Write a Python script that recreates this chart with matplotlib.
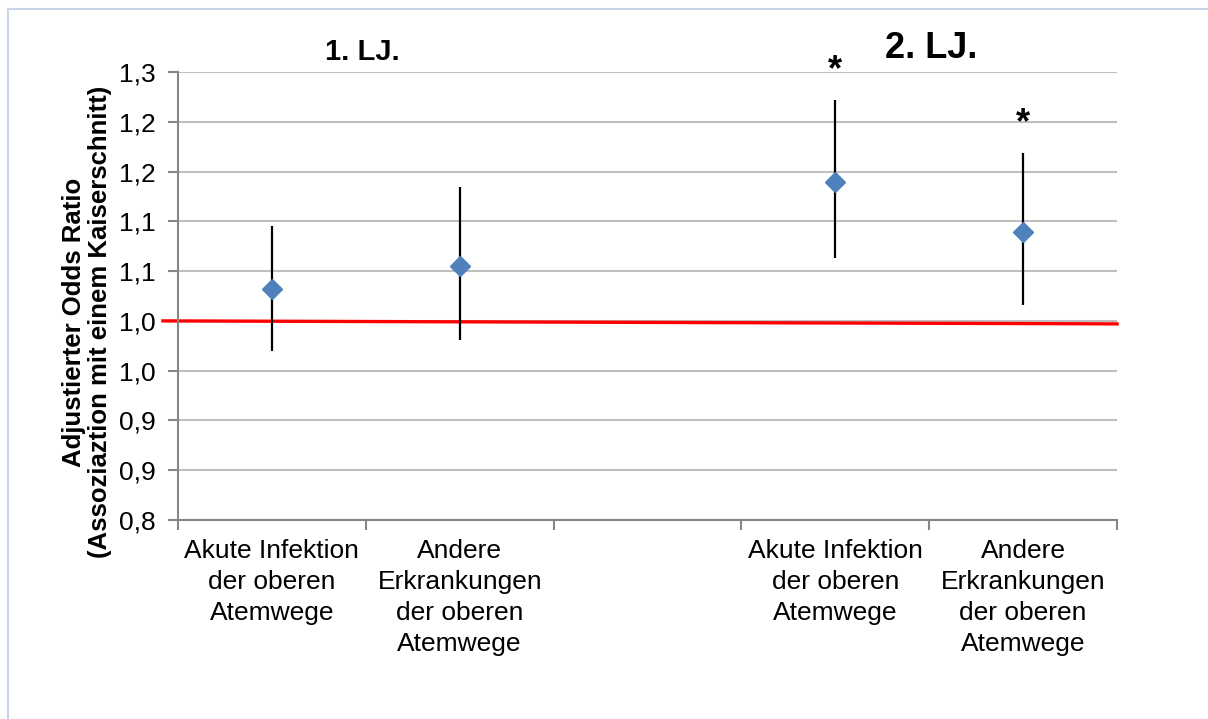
import numpy as np
import matplotlib.pyplot as plt
from matplotlib.ticker import FixedLocator, FixedFormatter

plt.rcParams['font.family'] = ['Liberation Sans', 'DejaVu Sans']

# categories (middle slot left empty as a gap between the two years)
categories = ['Akute Infektion\nder oberen\nAtemwege',
              'Andere\nErkrankungen\nder oberen\nAtemwege',
              '',
              'Akute Infektion\nder oberen\nAtemwege',
              'Andere\nErkrankungen\nder oberen\nAtemwege']
x_pos = [0, 1, 3, 4]
odds = [1.032, 1.055, 1.140, 1.089]
ci_low = [0.970, 0.981, 1.063, 1.016]
ci_high = [1.095, 1.134, 1.222, 1.169]
signif = [False, False, True, True]

y_ticks = [0.80, 0.85, 0.90, 0.95, 1.00, 1.05, 1.10, 1.15, 1.20, 1.25]
y_labels = ['0,8', '0,9', '0,9', '1,0', '1,0', '1,1', '1,1', '1,2', '1,2', '1,3']

fig = plt.figure(figsize=(12.08, 7.19), dpi=100)
ax = fig.add_axes([178/1208, 1 - 520/719, (1117 - 178)/1208, (520 - 72)/719])

ax.set_xlim(-0.5, 4.5)
ax.set_ylim(0.8, 1.25)

ax.yaxis.set_major_locator(FixedLocator(y_ticks))
ax.yaxis.set_major_formatter(FixedFormatter(y_labels))
ax.set_xticks(np.arange(-0.5, 5.0, 1.0))
ax.set_xticklabels([])
ax.set_xticks(range(5), minor=True)
ax.set_xticklabels(categories, minor=True, fontsize=19, linespacing=1.36, va='top')
ax.tick_params(axis='x', which='minor', length=0, pad=14)
ax.tick_params(axis='x', which='major', length=7, width=1.5, color='#868686', direction='out')
ax.tick_params(axis='y', length=7, width=1.5, color='#868686', labelsize=19, pad=9)

ax.grid(axis='y', color='#bfbfbf', linewidth=1.5)
ax.set_axisbelow(True)
for side in ['top', 'right']:
    ax.spines[side].set_visible(False)
for side in ['left', 'bottom']:
    ax.spines[side].set_color('#868686')
    ax.spines[side].set_linewidth(1.5)

# reference line at OR = 1
ax.plot([-0.58, 4.5], [1.0, 0.997], color='#ff0000', linewidth=2.4, clip_on=False, zorder=2)

err = [np.array(odds) - np.array(ci_low), np.array(ci_high) - np.array(odds)]
ax.errorbar(x_pos, odds, yerr=err, fmt='none', ecolor='black', elinewidth=1.6, capsize=0, zorder=3)
ax.plot(x_pos, odds, linestyle='none', marker='D', markersize=10.5,
        color='#4f81bd', markeredgecolor='#4f81bd', zorder=4)

for x, hi, s in zip(x_pos, ci_high, signif):
    if s:
        ax.text(x, hi + 0.012, '*', ha='center', va='bottom', fontsize=26, fontweight='bold')

ax.text(0.48, 1.27, '1. LJ.', ha='center', va='center', fontsize=21, fontweight='bold',
        clip_on=False)
ax.text(3.51, 1.274, '2. LJ.', ha='center', va='center', fontsize=26, fontweight='bold',
        clip_on=False)

fig.text(87/1208, 1 - 322/719, 'Adjustierter Odds Ratio\n(Assoziaztion mit einem Kaiserschnitt)',
         rotation=90, ha='center', va='center', fontsize=18.5, fontweight='bold', linespacing=1.1)

# light frame around the chart area
fig.add_artist(plt.Line2D([8/1208, 8/1208], [0, 1 - 9/719], transform=fig.transFigure,
                          color='#c6d4e6', linewidth=1.5))
fig.add_artist(plt.Line2D([8/1208, 1], [1 - 9/719, 1 - 9/719], transform=fig.transFigure,
                          color='#c6d4e6', linewidth=1.5))

fig.savefig('out.png', dpi=100)
